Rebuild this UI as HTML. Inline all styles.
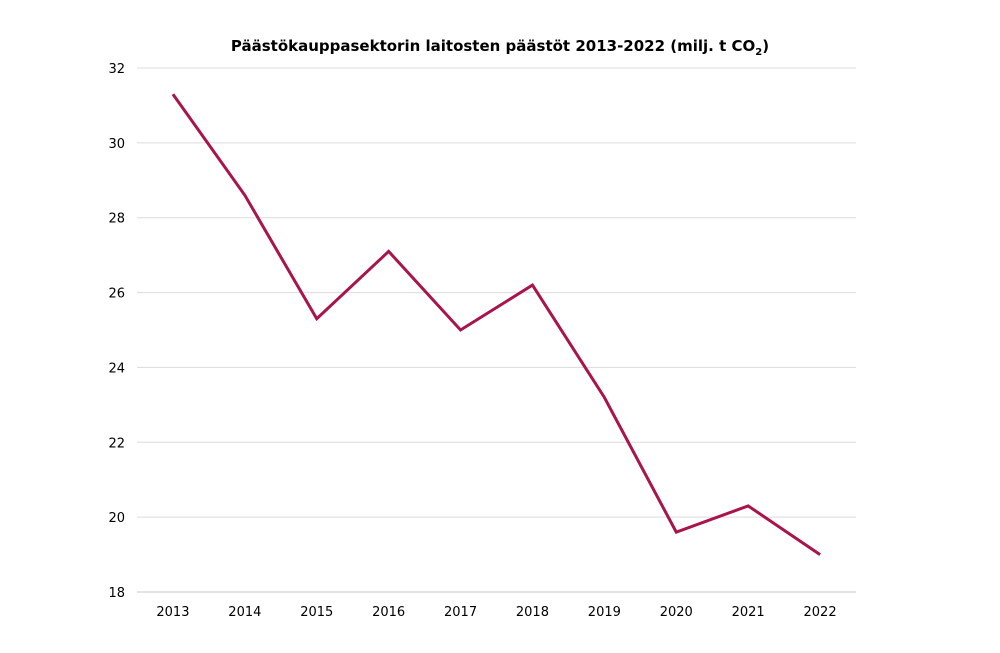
<!DOCTYPE html>
<html><head><meta charset="utf-8"><style>
body{margin:0;background:#fff;font-family:"DejaVu Sans",Verdana,sans-serif}
svg text{font-family:"DejaVu Sans",Verdana,sans-serif}
</style></head><body>
<svg width="1000" height="649" viewBox="0 0 1000 649">
<text x="500" y="51" text-anchor="middle" font-size="15" font-weight="bold" fill="#000">Päästökauppasektorin laitosten päästöt 2013-2022 (milj. t CO<tspan font-size="10" dy="4">2</tspan><tspan dy="-4">)</tspan></text>
<g id="grid"></g><g id="yt"></g><g id="xt"></g><g id="ln"></g>
</svg>
<script>
const years=["2013","2014","2015","2016","2017","2018","2019","2020","2021","2022"];
const emissions=[31.3,28.6,25.3,27.1,25.0,26.2,23.2,19.6,20.3,19.0];
const yTicks=[18,20,22,24,26,28,30,32];
const NS="http://www.w3.org/2000/svg";
const x0=137,x1=856,yMin=18,yMax=32,yTop=68,yBot=592;
const step=(x1-x0)/years.length;
const xs=i=>x0+step*(i+0.5);
const ys=v=>yBot-(v-yMin)/(yMax-yMin)*(yBot-yTop);
function mk(t,a,p){const e=document.createElementNS(NS,t);for(const k in a)e.setAttribute(k,a[k]);p.appendChild(e);return e;}
const g=document.getElementById('grid'),yt=document.getElementById('yt'),xt=document.getElementById('xt'),ln=document.getElementById('ln');
yTicks.forEach(v=>{
 const l=mk('line',{x1:x0,x2:x1,y1:ys(v),y2:ys(v),stroke:v===yMin?'#c8c8c8':'#dcdcdc','stroke-width':1},g);
 
 
 const t=mk('text',{x:125,y:ys(v)+5,'text-anchor':'end','font-size':13,fill:'#000'},yt);
 t.textContent=v;
 
 
});
years.forEach((y,i)=>{
 const t=mk('text',{x:xs(i),y:616,'text-anchor':'middle','font-size':13,fill:'#000'},xt);
 t.textContent=y;
 
 
});
const p=mk('polyline',{points:emissions.map((v,i)=>xs(i)+','+ys(v)).join(' '),fill:'none',stroke:'#a8144b','stroke-width':3,'stroke-linejoin':'miter'},ln);


</script>
</body></html>
